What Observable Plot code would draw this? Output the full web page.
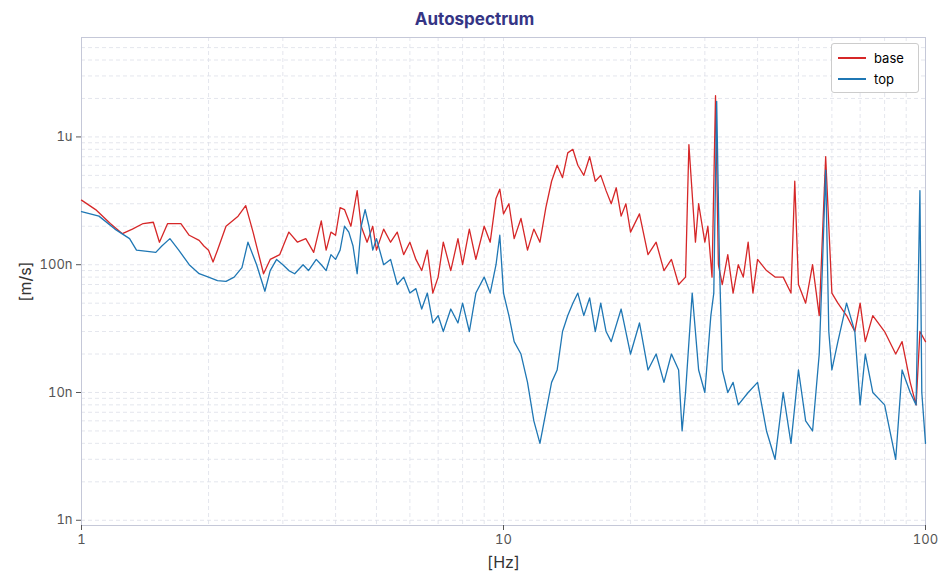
<!DOCTYPE html>
<html><head><meta charset="utf-8">
<script src="https://cdn.jsdelivr.net/npm/d3@7"></script>
<script src="https://cdn.jsdelivr.net/npm/@observablehq/plot@0.6"></script>
<style>
body{margin:0;background:#fff;font-family:Inter,"Noto Sans",sans-serif;}
#wrap{position:relative;width:949px;}
#title{height:30px;line-height:38px;text-align:center;font-weight:700;font-size:17px;color:#353585;}
#legend{position:absolute;left:831px;top:43px;width:86px;background:#fff;border:1px solid #ccc;border-radius:3px;font-size:13px;padding:3px 0;}
#legend div{display:flex;align-items:center;height:21px;}
#legend span.l{display:inline-block;width:28px;height:0;border-top:2px solid;margin:0 8px 0 6px;}
</style></head><body>
<div id="wrap"><div id="title">Autospectrum</div><div id="chart"></div>
<div id="legend"><div><span class="l" style="border-color:#d62728"></span>base</div><div><span class="l" style="border-color:#1f77b4"></span>top</div></div></div>
<script>
// values in nano m/s
const baseF=[1.0,1.08,1.17,1.25,1.32,1.4,1.48,1.53,1.6,1.72,1.8,1.9,1.95,2.0,2.05,2.1,2.2,2.35,2.45,2.55,2.7,2.8,2.95,3.1,3.25,3.4,3.55,3.7,3.8,3.9,4.0,4.1,4.2,4.35,4.5,4.6,4.75,4.9,5.0,5.2,5.4,5.6,5.8,6.0,6.2,6.4,6.6,6.8,7.0,7.2,7.5,7.8,8.0,8.3,8.6,9.0,9.3,9.6,9.8,10.0,10.3,10.6,11,11.4,11.8,12.2,12.6,13.0,13.4,13.8,14.2,14.6,15,15.5,16,16.5,17,17.5,18,18.5,19,19.5,20,21,22,23,24,25,26,27,27.5,28.5,29,30,30.5,31.2,31.8,32.3,33,34,35,36,37,38,39,40,42,44,46,48,49,50,52,54,56,58,60,62,65,68,70,72,75,80,85,88,92,95,97,100];
const baseV=[320,270,210,175,190,210,215,150,210,210,170,155,140,130,105,130,200,240,290,180,85,110,120,180,150,160,125,220,130,180,170,280,270,200,380,200,150,200,130,190,150,180,120,150,110,90,130,60,80,150,90,160,100,190,110,200,150,330,390,250,300,160,230,130,190,150,280,450,600,480,750,800,600,500,700,450,500,380,300,400,240,300,180,250,120,150,90,110,70,80,870,150,300,150,200,80,2100,100,70,120,60,100,80,150,60,110,90,80,80,60,450,70,50,100,40,700,60,50,40,30,50,25,40,30,20,25,12,8,30,25];
const topF=[1.0,1.1,1.2,1.3,1.35,1.5,1.55,1.62,1.7,1.8,1.9,2.0,2.1,2.2,2.3,2.4,2.48,2.6,2.72,2.8,2.9,3.0,3.1,3.2,3.35,3.45,3.6,3.7,3.8,3.9,4.0,4.1,4.2,4.3,4.4,4.5,4.6,4.7,4.8,4.9,5.0,5.2,5.4,5.6,5.8,6.0,6.2,6.4,6.6,6.8,7.0,7.2,7.5,7.8,8.0,8.3,8.6,9.0,9.3,9.6,9.8,10.0,10.3,10.6,11,11.4,11.8,12.2,12.6,13.0,13.4,13.8,14.2,14.6,15,15.5,16,16.5,17,17.5,18,19,20,21,22,23,24,25,26,26.5,27,28,29,30,31,31.5,32,32.5,33,34,35,36,38,40,42,44,46,48,50,52,54,56,57,58,59,60,62,65,68,70,72,75,80,85,88,92,95,97,98,100];
const topV=[260,240,190,160,130,125,140,160,130,100,85,80,75,74,80,95,150,100,62,90,110,100,90,85,100,90,110,100,90,120,110,130,200,180,140,85,200,270,200,130,160,100,110,70,80,60,65,45,60,35,40,30,45,35,50,30,60,80,60,100,170,60,40,25,20,12,6,4,7,12,15,30,40,50,60,40,55,30,50,30,25,45,20,35,15,20,12,20,15,5,10,60,15,10,40,60,1900,100,15,10,12,8,10,12,5,3,10,4,15,6,5,20,100,550,30,15,25,50,30,8,20,10,8,3,15,10,8,380,10,4];
const series=[{name:"base",F:baseF,V:baseV,color:"#d62728"},{name:"top",F:topF,V:topV,color:"#1f77b4"}];
const data=series.flatMap(s=>s.F.map((f,i)=>({f,v:s.V[i],name:s.name})));
const yMinor=[];for(const d of [1,10,100,1000])for(let k=1;k<10;k++)if(d*k<=6000)yMinor.push(d*k);
const xMinor=[];for(const d of [1,10])for(let k=1;k<10;k++)xMinor.push(d*k);xMinor.push(100);
const fmt={1:"1n",10:"10n",100:"100n",1000:"1u"};
const grid={stroke:"#dde0e8",strokeDasharray:"4,3",strokeWidth:0.8};
const chart=Plot.plot({
 width:949,height:557,marginTop:7,marginBottom:62,marginLeft:81,marginRight:24,
 style:{fontFamily:"Inter, 'Noto Sans', sans-serif",fontSize:"13px",color:"#555"},
 x:{type:"log",domain:[1,100],ticks:[1,10,100],tickFormat:d=>String(d),label:"[Hz]",labelAnchor:"center",labelArrow:"none"},
 y:{type:"log",domain:[0.91,6000],ticks:[1,10,100,1000],tickFormat:d=>fmt[d],label:"[m/s]",labelAnchor:"center",labelArrow:"none"},
 color:{domain:series.map(s=>s.name),range:series.map(s=>s.color)},
 marks:[
  Plot.ruleY(yMinor,grid),Plot.ruleX(xMinor,grid),
  Plot.frame({stroke:"#c5c8d8"}),
  Plot.line(data,{x:"f",y:"v",z:"name",stroke:"name",strokeWidth:1.3}),
  Plot.axisX({ticks:[1,10,100],tickFormat:d=>String(d),label:"[Hz]",labelAnchor:"center",labelArrow:"none",labelOffset:42,fontSize:13,tickSize:5}),
  Plot.axisY({ticks:[1,10,100,1000],tickFormat:d=>fmt[d],label:"[m/s]",labelAnchor:"center",labelArrow:"none",labelOffset:62,fontSize:13,tickSize:5})
 ]});
chart.querySelectorAll('[aria-label="x-axis label"] text, [aria-label="y-axis label"] text').forEach(t=>{t.style.fontSize="16px";t.style.fill="#333";});
document.getElementById("chart").appendChild(chart);
</script></body></html>
